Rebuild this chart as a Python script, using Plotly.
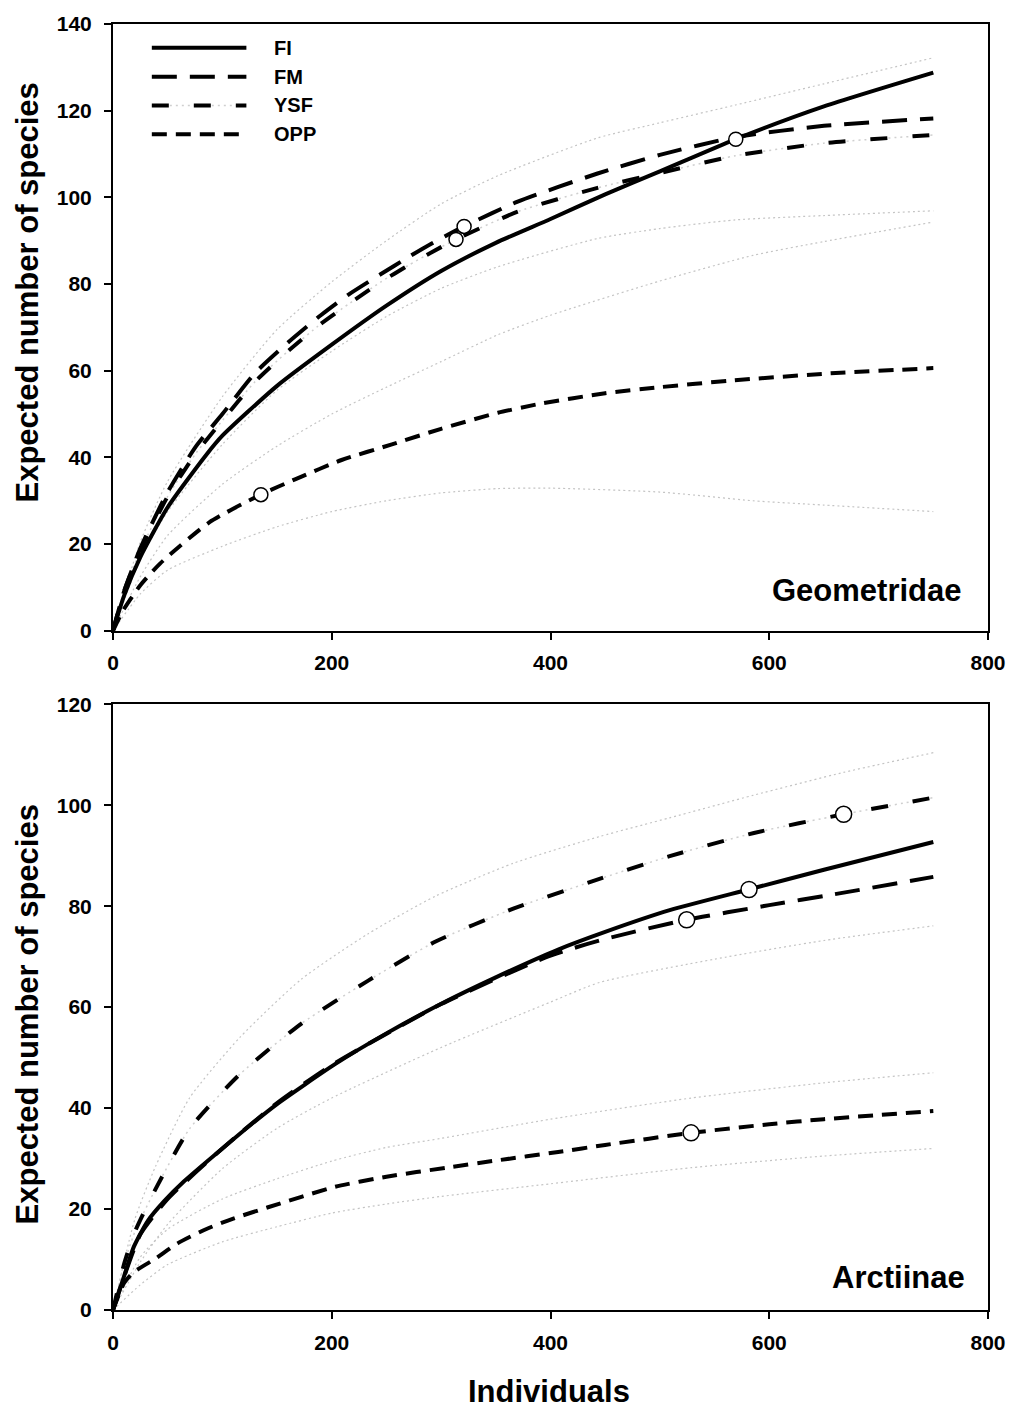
import plotly.graph_objects as go

# ---------------- data: Geometridae (top panel) ----------------
names = ["FI", "FM", "YSF", "OPP"]

geo_fi_x = [0, 10, 25, 50, 85, 100, 150, 200, 250, 300, 350, 400, 450, 500, 569, 650, 750]
geo_fi_y = [0, 8, 17, 28.5, 40.5, 45, 56.5, 66, 75, 83, 89.5, 95, 100.7, 106, 113.4, 121, 128.8]

geo_fm_x = [0, 10, 25, 50, 76, 100, 130, 160, 190, 215, 245, 270, 291, 321, 370, 443, 500, 569, 650, 750]
geo_fm_y = [0, 9, 19, 32, 42.6, 50, 59.5, 66.5, 72.8, 77.5, 82.3, 86.2, 89.3, 93.3, 99, 105.5, 109.8, 113.9, 116.5, 118.2]

geo_ysf_x = [0, 10, 25, 50, 76, 100, 130, 160, 190, 215, 245, 270, 291, 313.6, 370, 443, 500, 569, 650, 750]
geo_ysf_y = [0, 9, 18.5, 31, 41, 48.5, 57.5, 64.5, 70.8, 75.3, 80.5, 84.3, 87.3, 90.3, 96.7, 102.2, 105.6, 109.6, 112.5, 114.4]

geo_opp_x = [0, 10, 25, 43, 88, 135, 167, 209, 255, 300, 352, 391, 450, 500, 564, 650, 750]
geo_opp_y = [0, 5, 10.5, 15.5, 25, 31.4, 35, 39.4, 43, 46.6, 50.3, 52.4, 54.8, 56.2, 57.7, 59.3, 60.6]

# confidence limits (dotted)
geo_ysf_ci_x = [0, 25, 50, 100, 150, 200, 250, 300, 352, 443, 500, 569, 650, 750]
geo_ysf_up = [0, 20.5, 34.5, 54, 69.5, 80.5, 90, 98.5, 105, 113.7, 117.2, 121.3, 126.2, 132.2]
geo_ysf_lo = [0, 16.5, 27.5, 43, 55.5, 64.5, 72.5, 79, 84, 90.5, 92.8, 94.8, 95.8, 96.9]

geo_opp_ci_x = [0, 25, 50, 100, 150, 200, 250, 300, 352, 400, 500, 585, 650, 750]
geo_opp_up = [0, 12.5, 22, 33.8, 42.6, 50, 56.2, 62.1, 68.3, 72.8, 80.7, 86.6, 89.8, 94.3]
geo_opp_lo = [0, 8.5, 14, 19.5, 24, 27.5, 30, 31.8, 32.8, 32.9, 32, 30, 29, 27.5]

geo_obs_x = [569.4, 321, 313.6, 135.2]
geo_obs_y = [113.4, 93.3, 90.3, 31.4]

# ---------------- data: Arctiinae (bottom panel) ----------------
arc_fi_x = [0, 10, 19, 32, 47, 65, 100, 126, 150, 203, 250, 305, 350, 407, 450, 509, 581, 650, 750]
arc_fi_y = [0, 6.6, 12.5, 17.7, 21.6, 25.5, 32, 36.7, 40.8, 48.7, 54.8, 61.2, 65.9, 71.4, 74.9, 79.2, 83.3, 87.2, 92.7]

arc_fm_x = [0, 10, 25, 50, 100, 150, 200, 300, 400, 450, 524.5, 600, 658, 750]
arc_fm_y = [0, 6.5, 15, 22, 32, 41, 48.5, 60.6, 70.2, 73.5, 77.3, 80.2, 82.3, 85.8]

arc_ysf_x = [0, 10, 20, 39, 70, 116, 172, 233, 295, 366, 438, 509, 586, 668, 750]
arc_ysf_y = [0, 9, 15.5, 24, 35.9, 46.7, 56.7, 65.2, 73, 79.5, 84.9, 89.9, 94.5, 98.2, 101.5]

arc_opp_x = [0, 10, 19, 39, 59, 86, 110, 141, 203, 250, 305, 350, 407, 450, 529, 600, 650, 750]
arc_opp_y = [0, 5.3, 7.5, 10.2, 13.2, 16.1, 18.1, 20.3, 24.4, 26.4, 28.2, 29.6, 31.3, 32.7, 35.1, 36.8, 37.8, 39.4]

arc_ysf_ci_x = [0, 20, 39, 70, 116, 172, 233, 295, 366, 445, 509, 586, 668, 750]
arc_ysf_up = [0, 18, 28.5, 42, 54, 65.5, 74.5, 82, 88.5, 93.8, 97.5, 102, 106.5, 110.4]

arc_fm_ci_x = [0, 25, 50, 100, 150, 200, 300, 400, 445, 550, 650, 750]
arc_fm_lo = [0, 9.5, 17, 28, 36, 42, 52, 61, 64.9, 69.5, 73.2, 76.1]

arc_opp_ci_x = [0, 25, 50, 100, 150, 200, 250, 300, 400, 529, 650, 750]
arc_opp_up = [0, 10.5, 16, 22, 26, 29.5, 32.2, 34, 37.8, 42, 45, 47]
arc_opp_lo = [0, 5, 9, 13.5, 16.5, 19.2, 21, 22.5, 25, 28.2, 30.5, 32]

arc_obs_x = [581.5, 524.5, 668, 528.5]
arc_obs_y = [83.3, 77.3, 98.2, 35.1]

x_ticks = [0, 200, 400, 600, 800]
geo_y_ticks = [0, 20, 40, 60, 80, 100, 120, 140]
arc_y_ticks = [0, 20, 40, 60, 80, 100, 120]

# ---------------- styles ----------------
FONT = "Liberation Sans, Arial, sans-serif"
styles = {
    "FI": dict(color="black", width=4, dash="solid"),
    "FM": dict(color="black", width=4, dash="25px,13px"),
    "YSF": dict(color="black", width=4, dash="17px,25px"),
    "OPP": dict(color="black", width=4, dash="15px,9px"),
}
ci_style = dict(color="#c4c4c4", width=1.2, dash="2px,3px")
ysf_under = dict(color="#cfcfcf", width=1.5, dash="2px,4px")

fig = go.Figure()


def add_curve(x, y, name, xa, ya):
    if name == "YSF":
        fig.add_trace(go.Scatter(x=x, y=y, mode="lines", line=dict(shape="spline", smoothing=0.6, **ysf_under),
                                 xaxis=xa, yaxis=ya, showlegend=False, hoverinfo="skip"))
    fig.add_trace(go.Scatter(x=x, y=y, mode="lines", name=name,
                             line=dict(shape="spline", smoothing=0.6, **styles[name]),
                             xaxis=xa, yaxis=ya, showlegend=False))


def add_ci(x, y, xa, ya):
    fig.add_trace(go.Scatter(x=x, y=y, mode="lines", line=dict(shape="spline", smoothing=0.6, **ci_style),
                             xaxis=xa, yaxis=ya, showlegend=False, hoverinfo="skip"))


# top panel (x, y)
for y in (geo_ysf_up, geo_ysf_lo):
    add_ci(geo_ysf_ci_x, y, "x", "y")
for y in (geo_opp_up, geo_opp_lo):
    add_ci(geo_opp_ci_x, y, "x", "y")
add_curve(geo_opp_x, geo_opp_y, "OPP", "x", "y")
add_curve(geo_ysf_x, geo_ysf_y, "YSF", "x", "y")
add_curve(geo_fm_x, geo_fm_y, "FM", "x", "y")
add_curve(geo_fi_x, geo_fi_y, "FI", "x", "y")
fig.add_trace(go.Scatter(x=geo_obs_x, y=geo_obs_y, mode="markers",
                         marker=dict(size=14, color="white", line=dict(color="black", width=1.5)),
                         xaxis="x", yaxis="y", showlegend=False))

# bottom panel (x2, y2)
add_ci(arc_ysf_ci_x, arc_ysf_up, "x2", "y2")
add_ci(arc_fm_ci_x, arc_fm_lo, "x2", "y2")
add_ci(arc_opp_ci_x, arc_opp_up, "x2", "y2")
add_ci(arc_opp_ci_x, arc_opp_lo, "x2", "y2")
add_curve(arc_opp_x, arc_opp_y, "OPP", "x2", "y2")
add_curve(arc_ysf_x, arc_ysf_y, "YSF", "x2", "y2")
add_curve(arc_fm_x, arc_fm_y, "FM", "x2", "y2")
add_curve(arc_fi_x, arc_fi_y, "FI", "x2", "y2")
fig.add_trace(go.Scatter(x=arc_obs_x, y=arc_obs_y, mode="markers",
                         marker=dict(size=16, color="white", line=dict(color="black", width=1.5)),
                         xaxis="x2", yaxis="y2", showlegend=False))

# ---------------- layout ----------------
W, H = 1018, 1412
L, R, T, B = 113, 26, 15, 102
plot_w = W - L - R
plot_h = H - T - B


def px_x(px):
    return (px - L) / plot_w


def px_y(py):
    return (H - B - py) / plot_h


axis_common = dict(showgrid=False, zeroline=False, showline=True, linecolor="black", linewidth=2,
                   mirror=True, ticks="outside", ticklen=7, tickwidth=1.5, tickcolor="black",
                   tickfont=dict(family=FONT, size=21, color="black", weight="bold"))

fig.update_layout(
    width=W, height=H, margin=dict(l=L, r=R, t=T, b=B),
    paper_bgcolor="white", plot_bgcolor="white", showlegend=False,
    xaxis=dict(domain=[0, 1], range=[0, 800], tickvals=x_ticks, anchor="y", ticklabelstandoff=5, **axis_common),
    yaxis=dict(domain=[px_y(626), 1], range=[0, 140], tickvals=geo_y_ticks, anchor="x", ticklabelstandoff=8, **axis_common),
    xaxis2=dict(domain=[0, 1], range=[0, 800], tickvals=x_ticks, anchor="y2", ticklabelstandoff=6, **axis_common),
    yaxis2=dict(domain=[0, px_y(700)], range=[0, 120], tickvals=arc_y_ticks, anchor="x2", ticklabelstandoff=8, **axis_common),
)

ann = []
title_font = dict(family=FONT, size=31, color="black", weight="bold")
ann.append(dict(text="Expected number of species", x=px_x(27), y=px_y(285), xref="paper", yref="paper",
                textangle=-90, showarrow=False, font=title_font, xanchor="center", yanchor="middle"))
ann.append(dict(text="Expected number of species", x=px_x(27), y=px_y(1012), xref="paper", yref="paper",
                textangle=-90, showarrow=False, font=title_font, xanchor="center", yanchor="middle"))
ann.append(dict(text="Individuals", x=px_x(551), y=px_y(1392), xref="paper", yref="paper",
                showarrow=False, font=title_font, xanchor="center", yanchor="middle"))
ann.append(dict(text="Geometridae", x=px_x(968), y=px_y(585), xref="paper", yref="paper",
                showarrow=False, font=title_font, xanchor="right", yanchor="middle"))
ann.append(dict(text="Arctiinae", x=px_x(971), y=px_y(1277), xref="paper", yref="paper",
                showarrow=False, font=title_font, xanchor="right", yanchor="middle"))

# legend drawn manually (long line samples)
legend_rows = [39, 68, 97, 126]
shapes = []
for name, row in zip(names, legend_rows):
    yy = px_y(row)
    if name == "YSF":
        shapes.append(dict(type="line", xref="paper", yref="paper", x0=px_x(152), x1=px_x(247), y0=yy, y1=yy,
                           line=ysf_under))
    shapes.append(dict(type="line", xref="paper", yref="paper", x0=px_x(152), x1=px_x(247), y0=yy, y1=yy,
                       line=styles[name]))
    ann.append(dict(text=name, x=px_x(273), y=yy, xref="paper", yref="paper", showarrow=False,
                    font=dict(family=FONT, size=20, color="black", weight="bold"),
                    xanchor="left", yanchor="middle"))

fig.update_layout(annotations=ann, shapes=shapes)
fig.write_html("out.html")
